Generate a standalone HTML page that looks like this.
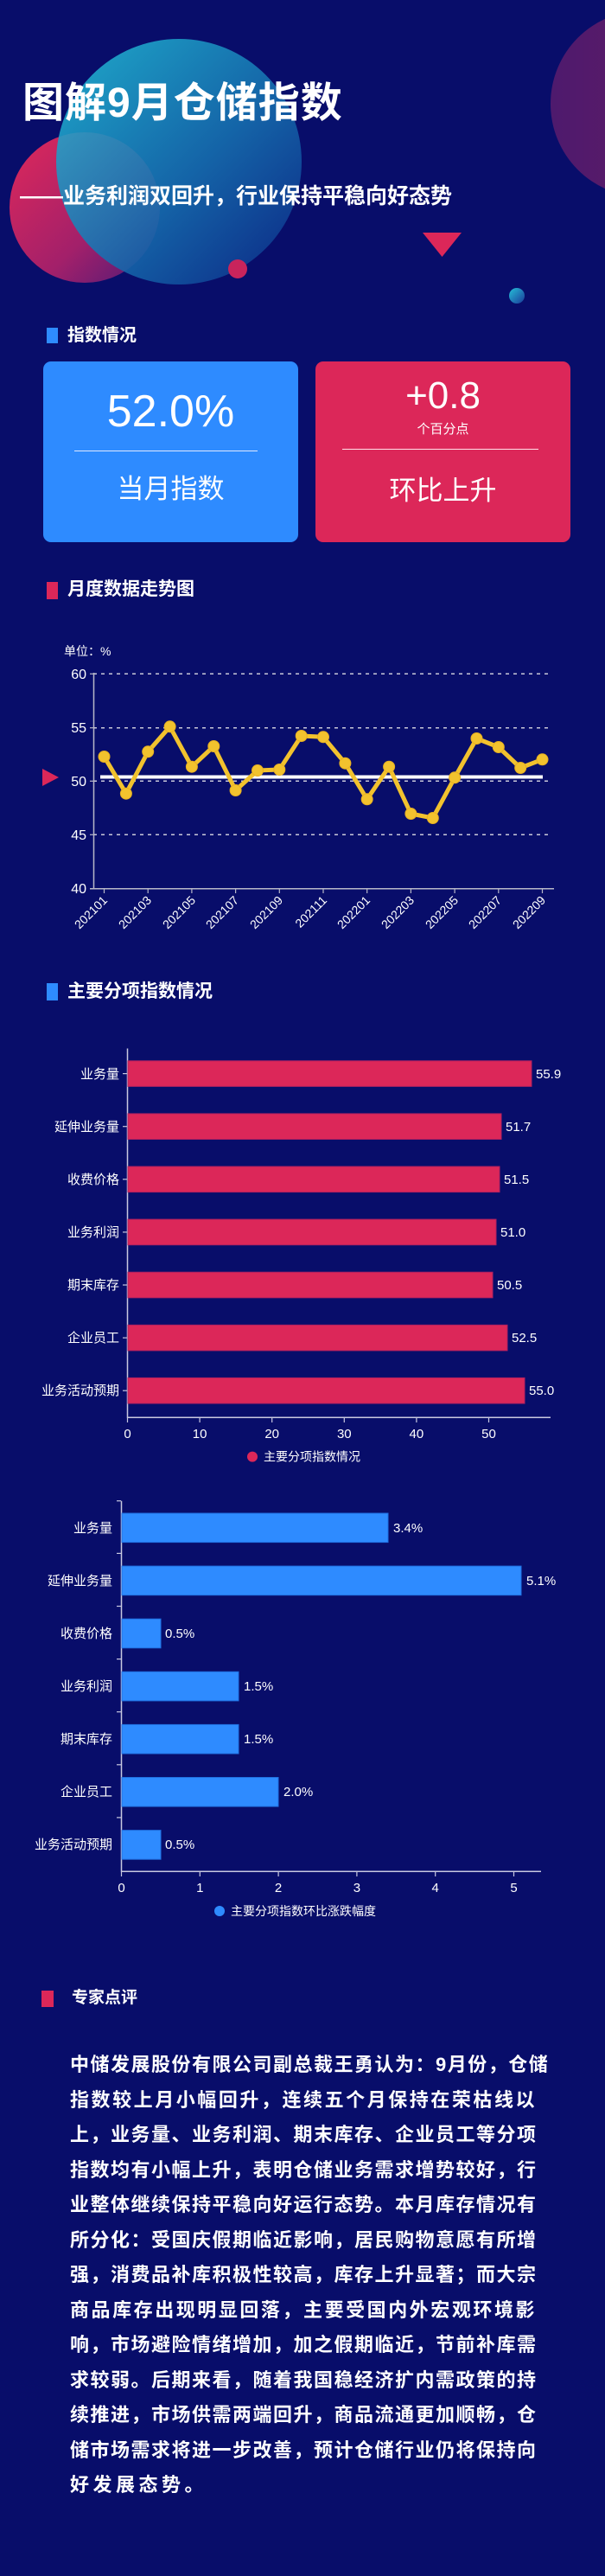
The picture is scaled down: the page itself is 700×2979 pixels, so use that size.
<!DOCTYPE html>
<html><head><meta charset="utf-8">
<style>
*{margin:0;padding:0;box-sizing:border-box}
body{width:700px;height:2979px;background:#080d6a;position:relative;overflow:hidden;font-family:"Liberation Sans","Noto Sans CJK SC",sans-serif;color:#fff}
.abs{position:absolute}
.h{position:absolute;font-size:20px;font-weight:bold;line-height:24px}
.mk{position:absolute;width:13px;height:18px}
.card{position:absolute;top:418px;width:295px;height:209px;border-radius:9px;text-align:center}
.p{position:absolute;left:81px;width:539px;font-size:22px;font-weight:bold;line-height:40.5px}
.p div{text-align:justify;text-align-last:justify;height:40.5px;white-space:nowrap;letter-spacing:1.5px}
.p div.l{text-align-last:left;letter-spacing:4.5px}
</style></head><body>
<svg class="abs" style="left:0;top:0" width="700" height="2979" xmlns="http://www.w3.org/2000/svg">
<defs>
<linearGradient id="g1" x1="0" y1="0" x2="1" y2="1"><stop offset="0" stop-color="#22c0d8"/><stop offset="0.55" stop-color="#1670b0"/><stop offset="1" stop-color="#0c2a88"/></linearGradient>
<linearGradient id="g2" x1="0" y1="0" x2="1" y2="1"><stop offset="0" stop-color="#e0285a"/><stop offset="0.6" stop-color="#a3206a"/><stop offset="1" stop-color="#4a1a78"/></linearGradient>
<linearGradient id="g3" x1="0" y1="0" x2="1" y2="0"><stop offset="0" stop-color="#5a1c6e"/><stop offset="1" stop-color="#7a2060"/></linearGradient>
<linearGradient id="g4" x1="0" y1="0" x2="1" y2="1"><stop offset="0" stop-color="#26c0d8"/><stop offset="1" stop-color="#1a3a9a"/></linearGradient>
</defs>
<circle cx="745" cy="120" r="108" fill="url(#g3)" opacity="0.85"/>
<circle cx="98" cy="240" r="87" fill="url(#g2)"/>
<circle cx="207" cy="187" r="142" fill="url(#g1)" opacity="0.88"/>
<circle cx="275" cy="311" r="11" fill="#c8245c"/>
<circle cx="598" cy="342" r="9" fill="url(#g4)"/>
<polygon points="489,269 534,269 511.5,297" fill="#dc2759"/>
<!-- line chart -->
<g stroke="#c8c8d8" stroke-width="1.5" stroke-dasharray="4,5">
<line x1="108" y1="779.3" x2="638" y2="779.3"/><line x1="108" y1="841.7" x2="638" y2="841.7"/><line x1="108" y1="903.3" x2="638" y2="903.3"/><line x1="108" y1="965.3" x2="638" y2="965.3"/>
</g>
<line x1="108.5" y1="778" x2="108.5" y2="1028" stroke="#b8b8c8" stroke-width="1.5"/>
<line x1="104" y1="1027.7" x2="641" y2="1027.7" stroke="#b8b8c8" stroke-width="1.5"/>
<g stroke="#b8b8c8" stroke-width="1.2">
<line x1="104" y1="779.3" x2="108" y2="779.3"/><line x1="104" y1="841.7" x2="108" y2="841.7"/><line x1="104" y1="903.3" x2="108" y2="903.3"/><line x1="104" y1="965.3" x2="108" y2="965.3"/>
<line x1="120.5" y1="1028" x2="120.5" y2="1033"/><line x1="171.2" y1="1028" x2="171.2" y2="1033"/><line x1="221.9" y1="1028" x2="221.9" y2="1033"/><line x1="272.6" y1="1028" x2="272.6" y2="1033"/><line x1="323.3" y1="1028" x2="323.3" y2="1033"/><line x1="374" y1="1028" x2="374" y2="1033"/><line x1="424.7" y1="1028" x2="424.7" y2="1033"/><line x1="475.4" y1="1028" x2="475.4" y2="1033"/><line x1="526.1" y1="1028" x2="526.1" y2="1033"/><line x1="576.8" y1="1028" x2="576.8" y2="1033"/><line x1="627.5" y1="1028" x2="627.5" y2="1033"/>
</g>
<g fill="#fff" font-size="16" text-anchor="end" font-family="Liberation Sans, sans-serif">
<text x="100" y="785">60</text><text x="100" y="847">55</text><text x="100" y="909">50</text><text x="100" y="971">45</text><text x="100" y="1033">40</text>
</g>
<text x="74" y="758" fill="#fff" font-size="14" font-family="Liberation Sans, Noto Sans CJK SC, sans-serif">单位：%</text>
<g fill="#fff" font-size="14" text-anchor="end" font-family="Liberation Sans, sans-serif">
<text transform="translate(125,1042) rotate(-45)">202101</text>
<text transform="translate(176,1042) rotate(-45)">202103</text>
<text transform="translate(227,1042) rotate(-45)">202105</text>
<text transform="translate(277,1042) rotate(-45)">202107</text>
<text transform="translate(328,1042) rotate(-45)">202109</text>
<text transform="translate(379,1042) rotate(-45)">202111</text>
<text transform="translate(429,1042) rotate(-45)">202201</text>
<text transform="translate(480,1042) rotate(-45)">202203</text>
<text transform="translate(531,1042) rotate(-45)">202205</text>
<text transform="translate(581,1042) rotate(-45)">202207</text>
<text transform="translate(632,1042) rotate(-45)">202209</text>
</g>
<rect x="116" y="896.5" width="512" height="4" fill="#fff"/>
<polygon points="49,889 68,899 49,909" fill="#dc2759"/>
<polyline fill="none" stroke="#f2c22e" stroke-width="5" stroke-linejoin="round" points="120.5,875 145.9,917.7 171.2,869.3 196.6,840.3 221.9,886.7 247.3,863 272.6,914 298,891 323.3,890 348.7,851 374,852.3 399.4,882.7 424.7,924.3 450.1,886.7 475.4,941 500.8,946 526.1,899.3 551.5,854 576.8,864 602.2,888 627.5,878.3"/>
<g fill="#f2c22e" stroke="#e8b020" stroke-width="1">
<circle cx="120.5" cy="875" r="6.5"/><circle cx="145.9" cy="917.7" r="6.5"/><circle cx="171.2" cy="869.3" r="6.5"/><circle cx="196.6" cy="840.3" r="6.5"/><circle cx="221.9" cy="886.7" r="6.5"/><circle cx="247.3" cy="863" r="6.5"/><circle cx="272.6" cy="914" r="6.5"/><circle cx="298" cy="891" r="6.5"/><circle cx="323.3" cy="890" r="6.5"/><circle cx="348.7" cy="851" r="6.5"/><circle cx="374" cy="852.3" r="6.5"/><circle cx="399.4" cy="882.7" r="6.5"/><circle cx="424.7" cy="924.3" r="6.5"/><circle cx="450.1" cy="886.7" r="6.5"/><circle cx="475.4" cy="941" r="6.5"/><circle cx="500.8" cy="946" r="6.5"/><circle cx="526.1" cy="899.3" r="6.5"/><circle cx="551.5" cy="854" r="6.5"/><circle cx="576.8" cy="864" r="6.5"/><circle cx="602.2" cy="888" r="6.5"/><circle cx="627.5" cy="878.3" r="6.5"/>
</g>
<!-- bar chart 1 -->
<line x1="147.5" y1="1212.5" x2="147.5" y2="1640" stroke="#c8c8e0" stroke-width="1.5"/>
<line x1="147" y1="1639.3" x2="637" y2="1639.3" stroke="#c8c8e0" stroke-width="1.5"/>
<g fill="#dc2759" stroke="#b02060" stroke-width="1">
<rect x="148" y="1226.8" width="467" height="29.6"/>
<rect x="148" y="1287.9" width="432" height="29.6"/>
<rect x="148" y="1349" width="430" height="29.6"/>
<rect x="148" y="1410.1" width="426" height="29.6"/>
<rect x="148" y="1471.2" width="422" height="29.6"/>
<rect x="148" y="1532.3" width="439" height="29.6"/>
<rect x="148" y="1593.4" width="459" height="29.6"/>
</g>
<g stroke="#c8c8e0" stroke-width="1.2">
<line x1="142" y1="1241.6" x2="147" y2="1241.6"/><line x1="142" y1="1302.7" x2="147" y2="1302.7"/><line x1="142" y1="1363.8" x2="147" y2="1363.8"/><line x1="142" y1="1424.9" x2="147" y2="1424.9"/><line x1="142" y1="1486" x2="147" y2="1486"/><line x1="142" y1="1547.1" x2="147" y2="1547.1"/><line x1="142" y1="1608.2" x2="147" y2="1608.2"/>
<line x1="147.5" y1="1640" x2="147.5" y2="1645"/><line x1="231.1" y1="1640" x2="231.1" y2="1645"/><line x1="314.7" y1="1640" x2="314.7" y2="1645"/><line x1="398.3" y1="1640" x2="398.3" y2="1645"/><line x1="481.9" y1="1640" x2="481.9" y2="1645"/><line x1="565.5" y1="1640" x2="565.5" y2="1645"/>
</g>
<g fill="#fff" font-size="15" text-anchor="end" font-family="Liberation Sans, Noto Sans CJK SC, sans-serif">
<text x="138" y="1247">业务量</text><text x="138" y="1308">延伸业务量</text><text x="138" y="1369">收费价格</text><text x="138" y="1430">业务利润</text><text x="138" y="1491">期末库存</text><text x="138" y="1552">企业员工</text><text x="138" y="1613">业务活动预期</text>
</g>
<g fill="#fff" font-size="15" font-family="Liberation Sans, sans-serif">
<text x="620" y="1247">55.9</text><text x="585" y="1308">51.7</text><text x="583" y="1369">51.5</text><text x="579" y="1430">51.0</text><text x="575" y="1491">50.5</text><text x="592" y="1552">52.5</text><text x="612" y="1613">55.0</text>
</g>
<g fill="#fff" font-size="15" text-anchor="middle" font-family="Liberation Sans, sans-serif">
<text x="147.5" y="1663">0</text><text x="231.1" y="1663">10</text><text x="314.7" y="1663">20</text><text x="398.3" y="1663">30</text><text x="481.9" y="1663">40</text><text x="565.5" y="1663">50</text>
</g>
<circle cx="292" cy="1684.6" r="6" fill="#dc2759"/>
<text x="305" y="1689.5" fill="#fff" font-size="14" font-family="Liberation Sans, Noto Sans CJK SC, sans-serif">主要分项指数情况</text>
<!-- bar chart 2 -->
<line x1="140.5" y1="1735.7" x2="140.5" y2="2165" stroke="#c8c8e0" stroke-width="1.5"/>
<line x1="140" y1="2164.3" x2="626" y2="2164.3" stroke="#c8c8e0" stroke-width="1.5"/>
<g fill="#2e8bff" stroke="#2070e0" stroke-width="1">
<rect x="141" y="1750" width="308" height="33.6"/>
<rect x="141" y="1811.1" width="462" height="33.6"/>
<rect x="141" y="1872.2" width="45" height="33.6"/>
<rect x="141" y="1933.3" width="135" height="33.6"/>
<rect x="141" y="1994.4" width="135" height="33.6"/>
<rect x="141" y="2055.5" width="181" height="33.6"/>
<rect x="141" y="2116.6" width="45" height="33.6"/>
</g>
<g stroke="#c8c8e0" stroke-width="1.2">
<line x1="135" y1="1735.7" x2="140" y2="1735.7"/><line x1="135" y1="1796.4" x2="140" y2="1796.4"/><line x1="135" y1="1857.5" x2="140" y2="1857.5"/><line x1="135" y1="1918.6" x2="140" y2="1918.6"/><line x1="135" y1="1979.7" x2="140" y2="1979.7"/><line x1="135" y1="2040.8" x2="140" y2="2040.8"/><line x1="135" y1="2101.9" x2="140" y2="2101.9"/>
<line x1="140.5" y1="2165" x2="140.5" y2="2170"/><line x1="231.3" y1="2165" x2="231.3" y2="2170"/><line x1="322.1" y1="2165" x2="322.1" y2="2170"/><line x1="412.9" y1="2165" x2="412.9" y2="2170"/><line x1="503.7" y1="2165" x2="503.7" y2="2170"/><line x1="594.5" y1="2165" x2="594.5" y2="2170"/>
</g>
<g fill="#fff" font-size="15" text-anchor="end" font-family="Liberation Sans, Noto Sans CJK SC, sans-serif">
<text x="130" y="1772">业务量</text><text x="130" y="1833">延伸业务量</text><text x="130" y="1894">收费价格</text><text x="130" y="1955">业务利润</text><text x="130" y="2016">期末库存</text><text x="130" y="2077">企业员工</text><text x="130" y="2138">业务活动预期</text>
</g>
<g fill="#fff" font-size="15" font-family="Liberation Sans, sans-serif">
<text x="455" y="1772">3.4%</text><text x="609" y="1833">5.1%</text><text x="191" y="1894">0.5%</text><text x="282" y="1955">1.5%</text><text x="282" y="2016">1.5%</text><text x="328" y="2077">2.0%</text><text x="191" y="2138">0.5%</text>
</g>
<g fill="#fff" font-size="15" text-anchor="middle" font-family="Liberation Sans, sans-serif">
<text x="140.5" y="2188">0</text><text x="231.3" y="2188">1</text><text x="322.1" y="2188">2</text><text x="412.9" y="2188">3</text><text x="503.7" y="2188">4</text><text x="594.5" y="2188">5</text>
</g>
<circle cx="254" cy="2210" r="6" fill="#2e8bff"/>
<text x="267" y="2215" fill="#fff" font-size="14" font-family="Liberation Sans, Noto Sans CJK SC, sans-serif">主要分项指数环比涨跌幅度</text>
</svg>

<div class="abs" style="left:26px;top:91px;font-size:48px;font-weight:bold;line-height:58px;letter-spacing:1px">图解9月仓储指数</div>
<div class="abs" style="left:23px;top:212px;font-size:25px;font-weight:bold;line-height:30px;white-space:nowrap">——业务利润双回升，行业保持平稳向好态势</div>

<div class="mk" style="left:54px;top:379px;background:#2e8bff"></div>
<div class="h" style="left:78px;top:376px">指数情况</div>
<div class="card" style="left:50px;background:#2e8bff">
  <div style="position:absolute;left:0;right:0;top:27px;font-size:52px;line-height:62px">52.0%</div>
  <div style="position:absolute;left:36px;width:212px;top:103px;height:1px;background:#dfe8ff"></div>
  <div style="position:absolute;left:0;right:0;top:128px;font-size:31px;line-height:40px">当月指数</div>
</div>
<div class="card" style="left:365px;background:#dc2759">
  <div style="position:absolute;left:0;right:0;top:14px;font-size:44px;line-height:52px">+0.8</div>
  <div style="position:absolute;left:0;right:0;top:69px;font-size:15px;line-height:20px">个百分点</div>
  <div style="position:absolute;left:31px;width:227px;top:101px;height:1px;background:#ffe0e8"></div>
  <div style="position:absolute;left:0;right:0;top:130px;font-size:31px;line-height:40px">环比上升</div>
</div>

<div class="mk" style="left:54px;top:673px;height:20px;width:13px;background:#dc2759"></div>
<div class="h" style="left:78px;top:670px;font-size:21px">月度数据走势图</div>

<div class="mk" style="left:54px;top:1137px;height:20px;width:13px;background:#2e8bff"></div>
<div class="h" style="left:78px;top:1135px;font-size:21px">主要分项指数情况</div>

<div class="mk" style="left:48px;top:2302px;width:14px;height:19px;background:#dc2759"></div>
<div class="h" style="left:83px;top:2299px;font-size:19px">专家点评</div>

<div class="p" style="top:2368px">
<div>中储发展股份有限公司副总裁王勇认为：9月份，仓储</div>
<div>指数较上月小幅回升，连续五个月保持在荣枯线以</div>
<div>上，业务量、业务利润、期末库存、企业员工等分项</div>
<div>指数均有小幅上升，表明仓储业务需求增势较好，行</div>
<div>业整体继续保持平稳向好运行态势。本月库存情况有</div>
<div>所分化：受国庆假期临近影响，居民购物意愿有所增</div>
<div>强，消费品补库积极性较高，库存上升显著；而大宗</div>
<div>商品库存出现明显回落，主要受国内外宏观环境影</div>
<div>响，市场避险情绪增加，加之假期临近，节前补库需</div>
<div>求较弱。后期来看，随着我国稳经济扩内需政策的持</div>
<div>续推进，市场供需两端回升，商品流通更加顺畅，仓</div>
<div>储市场需求将进一步改善，预计仓储行业仍将保持向</div>
<div class="l">好发展态势。</div>
</div>
</body></html>
